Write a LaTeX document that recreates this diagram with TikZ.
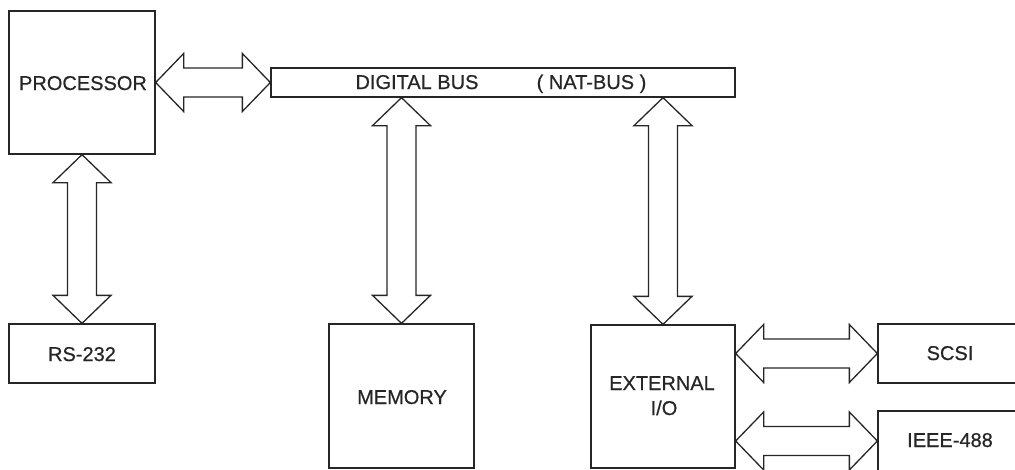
\documentclass[tikz,border=0pt]{standalone}
\usepackage{fontspec}
\setmainfont{Liberation Sans}
\newfontfamily\lblfont{Liberation Sans}[FakeBold=0.6]
\usetikzlibrary{calc}
\tikzset{
  box/.style={draw=black!85, line width=1.3pt, inner sep=0pt},
  lbl/.style={font=\lblfont\fontsize{20}{25}\selectfont, text=black!85, inner sep=0pt, anchor=base},
  fat/.style={draw=black!85, line width=1.3pt, line join=miter, fill=white},
}
\newcommand{\harrow}[2]{\draw[fat] let \p1=#1, \p2=#2 in
  (\x1,\y1) -- ++(28pt,29pt) -- ++(0pt,-14.5pt) -- (\x2-28pt,\y1+14.5pt) -- ++(0pt,14.5pt)
  -- (\x2,\y1) -- ++(-28pt,-29pt) -- ++(0pt,14.5pt) -- (\x1+28pt,\y1-14.5pt) -- ++(0pt,-14.5pt) -- cycle;}
\newcommand{\varrow}[2]{\draw[fat] let \p1=#1, \p2=#2 in
  (\x1,\y1) -- ++(29pt,-28pt) -- ++(-14.5pt,0pt) -- (\x1+14.5pt,\y2+28pt) -- ++(14.5pt,0pt)
  -- (\x1,\y2) -- ++(-29pt,28pt) -- ++(14.5pt,0pt) -- (\x1-14.5pt,\y1-28pt) -- ++(-14.5pt,0pt) -- cycle;}
\begin{document}
\begin{tikzpicture}[x=1pt,y=-1pt]
\useasboundingbox (0,0) rectangle (1015,469);
\clip (0,0) rectangle (1015,469);
\node[box, minimum width=146pt, minimum height=143pt] (proc) at (82,82.5) {};
\node[lbl] (proct) at (83,90) {PROCESSOR};
\node[box, minimum width=464pt, minimum height=29pt] (bus) at (503,82.5) {};
\node[lbl] (busl) at (417,89) {DIGITAL BUS};
\node[lbl] (busr) at (591.5,89) {( NAT-BUS )};
\node[box, minimum width=146pt, minimum height=59pt] (rs) at (82,353.5) {};
\node[lbl] (rst) at (82,361) {RS-232};
\node[box, minimum width=145pt, minimum height=144pt] (mem) at (401.5,396) {};
\node[lbl] (memt) at (402,404) {MEMORY};
\node[box, minimum width=144pt, minimum height=143pt] (ext) at (663,396.5) {};
\node[lbl] (extt) at (662,390) {EXTERNAL};
\node[lbl] (extt2) at (664,415) {I/O};
\node[box, minimum width=146pt, minimum height=59pt] (scsi) at (951,353.5) {};
\node[lbl] (scsit) at (950,360) {SCSI};
\node[box, minimum width=146pt, minimum height=60pt] (ieee) at (951,441) {};
\node[lbl] (ieeet) at (950,447) {IEEE-488};
\harrow{(proc.east)}{(bus.west)}
\varrow{(proc.south)}{(rs.north)}
\varrow{(mem.north |- bus.south)}{(mem.north)}
\varrow{(ext.north |- bus.south)}{(ext.north)}
\harrow{(ext.east |- scsi.west)}{(scsi.west)}
\harrow{(ext.east |- ieee.west)}{(ieee.west)}
\end{tikzpicture}
\end{document}
